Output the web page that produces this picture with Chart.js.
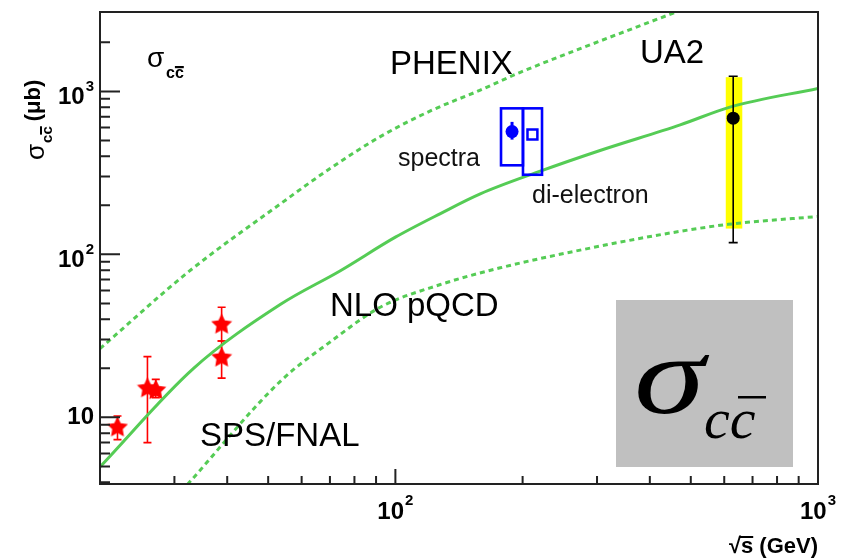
<!DOCTYPE html>
<html>
<head>
<meta charset="utf-8">
<script src="https://cdn.jsdelivr.net/npm/chart.js@4/dist/chart.umd.min.js"></script>
<style>
  html, body { margin: 0; padding: 0; background: #ffffff; }
  canvas { display: block; }
</style>
</head>
<body>
<canvas id="c" width="845" height="558"></canvas>
<script>
// ---- NLO pQCD charm cross section (central value and scale band) ----
const nloX   = [20, 33.3, 53.5, 74.1, 100, 127.8, 158.8, 220.2, 305, 472, 619, 1000];
const nloY   = [4.97, 20.0, 49.4, 79.4, 127.5, 178, 235, 324, 434, 623, 801, 1044];
const nloHiX = [20, 32.2, 53.5, 70.2, 92.1, 121, 158.8, 197.5, 305, 459];
const nloHiY = [26.4, 77.2, 204.6, 337.5, 528, 759, 1018, 1309, 2037, 3052];
const nloLoX = [32.2, 53.5, 70.2, 92.1, 127.8, 177.1, 305, 472, 613, 1000];
const nloLoY = [3.87, 16.7, 29.1, 47.4, 65.3, 82.7, 112.4, 138.5, 152.8, 170.8];

// ---- SPS / FNAL fixed-target measurements ----
const spsX     = [22.0, 25.9, 27.1, 38.8, 38.8];
const spsY     = [8.8, 15.3, 14.9, 37.6, 23.6];
const spsErrLo = [7.3, 7.0, 13.2, 29.4, 17.4];
const spsErrHi = [10.2, 23.6, 17.1, 47.4, 29.4];

// ---- PHENIX at sqrt(s) = 200 GeV: single-electron spectra and di-electrons ----
const phenixX      = [188.8, 211.0];
const phenixY      = [567, 544];
const phenixErrLo  = [506, 544];
const phenixErrHi  = [650, 544];
const phenixBoxXLo = [177.8, 200.4];
const phenixBoxXHi = [200.4, 222.3];
const phenixBoxYLo = [352, 308];
const phenixBoxYHi = [787, 787];

// ---- UA2 at sqrt(s) = 630 GeV ----
const ua2X      = [630];
const ua2Y      = [685];
const ua2ErrLo  = [118];
const ua2ErrHi  = [1239];
const ua2SysLo  = [144];
const ua2SysHi  = [1222];
const ua2SysXLo = [605];
const ua2SysXHi = [662];

// ---- axis ticks ----
const xMajorTicks = [100, 1000];
const xTickLabels = ['10^2', '10^3'];
const xMinorTicks = [30, 40, 50, 60, 70, 80, 90, 200, 300, 400, 500, 600, 700, 800, 900];
const yMajorTicks = [10, 100, 1000];
const yTickLabels = ['10', '10^2', '10^3'];
const yMinorTicks = [4, 5, 6, 7, 8, 9, 20, 30, 40, 50, 60, 70, 80, 90,
                     200, 300, 400, 500, 600, 700, 800, 900, 2000];

const GREEN = '#55cc55';
const SANS = '"Liberation Sans", Arial, Helvetica, sans-serif';
const SERIF = '"Liberation Serif", "Times New Roman", serif';

const pts = (xs, ys) => xs.map((x, i) => ({ x: x, y: ys[i] }));

// filled five-pointed star used for the fixed-target points
function starImage(size, color) {
  const c = document.createElement('canvas');
  c.width = size; c.height = size;
  const g = c.getContext('2d');
  const cx = size / 2, cy = size / 2 + size * 0.05, R = size / 2, r = R * 0.5;
  g.fillStyle = color;
  g.beginPath();
  for (let i = 0; i < 10; i++) {
    const a = -Math.PI / 2 + i * Math.PI / 5;
    const rr = (i % 2) ? r : R;
    g.lineTo(cx + rr * Math.cos(a), cy + rr * Math.sin(a));
  }
  g.closePath();
  g.fill();
  return c;
}

function errorBar(ctx, x, y1, y2, cap, color, width) {
  ctx.save();
  ctx.strokeStyle = color;
  ctx.lineWidth = width;
  ctx.beginPath();
  ctx.moveTo(x, y1); ctx.lineTo(x, y2);
  ctx.moveTo(x - cap / 2, y1); ctx.lineTo(x + cap / 2, y1);
  ctx.moveTo(x - cap / 2, y2); ctx.lineTo(x + cap / 2, y2);
  ctx.stroke();
  ctx.restore();
}

// "10^3" -> base and superscript
function drawPower(ctx, label, x, yCenter, align) {
  const parts = label.split('^');
  const baseFont = 'bold 24px ' + SANS;
  const supFont = 'bold 15px ' + SANS;
  ctx.font = baseFont;
  const wb = ctx.measureText(parts[0]).width;
  ctx.font = supFont;
  const ws = parts[1] ? ctx.measureText(parts[1]).width + 1 : 0;
  const total = wb + ws;
  let x0 = align === 'right' ? x - total : x - total / 2;
  ctx.textAlign = 'left';
  ctx.textBaseline = 'middle';
  ctx.fillStyle = '#000';
  ctx.font = baseFont;
  ctx.fillText(parts[0], x0, yCenter);
  if (parts[1]) {
    ctx.font = supFont;
    ctx.fillText(parts[1], x0 + wb + 1, yCenter - 11);
  }
}

function text(ctx, s, x, y, font, color) {
  ctx.font = font;
  ctx.fillStyle = color || '#000';
  ctx.textAlign = 'left';
  ctx.textBaseline = 'alphabetic';
  ctx.fillText(s, x, y);
}

const decorations = {
  id: 'decorations',
  beforeDatasetsDraw(chart) {
    const ctx = chart.ctx, xs = chart.scales.x, ys = chart.scales.y;
    // UA2 systematic band
    ctx.save();
    ctx.fillStyle = '#ffff00';
    for (let i = 0; i < ua2X.length; i++) {
      const xl = xs.getPixelForValue(ua2SysXLo[i]), xr = xs.getPixelForValue(ua2SysXHi[i]);
      const yt = ys.getPixelForValue(ua2SysHi[i]), yb = ys.getPixelForValue(ua2SysLo[i]);
      ctx.fillRect(xl, yt, xr - xl, yb - yt);
    }
    ctx.restore();
    // fixed-target error bars
    for (let i = 0; i < spsX.length; i++) {
      errorBar(ctx, xs.getPixelForValue(spsX[i]), ys.getPixelForValue(spsErrHi[i]),
               ys.getPixelForValue(spsErrLo[i]), 8, '#ff0000', 1.6);
    }
  },
  afterDatasetsDraw(chart) {
    const ctx = chart.ctx, xs = chart.scales.x, ys = chart.scales.y;
    const a = chart.chartArea;

    // UA2 error bar
    for (let i = 0; i < ua2X.length; i++) {
      errorBar(ctx, xs.getPixelForValue(ua2X[i]), ys.getPixelForValue(ua2ErrHi[i]),
               ys.getPixelForValue(ua2ErrLo[i]), 9, '#000000', 1.6);
    }
    // PHENIX systematic boxes and spectra stat bar
    ctx.save();
    ctx.strokeStyle = '#0000ff';
    for (let i = 0; i < phenixX.length; i++) {
      const xl = xs.getPixelForValue(phenixBoxXLo[i]), xr = xs.getPixelForValue(phenixBoxXHi[i]);
      const yt = ys.getPixelForValue(phenixBoxYHi[i]), yb = ys.getPixelForValue(phenixBoxYLo[i]);
      ctx.lineWidth = 2.6;
      ctx.strokeRect(xl, yt, xr - xl, yb - yt);
      const px = xs.getPixelForValue(phenixX[i]);
      ctx.beginPath();
      ctx.lineWidth = 3;
      ctx.moveTo(px, ys.getPixelForValue(phenixErrHi[i]));
      ctx.lineTo(px, ys.getPixelForValue(phenixErrLo[i]));
      ctx.stroke();
    }
    ctx.restore();

    // labels
    const big = '33px ' + SANS, mid = '25px ' + SANS;
    text(ctx, 'PHENIX', 390, 74, big);
    text(ctx, 'UA2', 640, 63, big);
    text(ctx, 'spectra', 398, 166, mid, '#111');
    text(ctx, 'di-electron', 532, 203, mid, '#111');
    text(ctx, 'NLO pQCD', 330, 316, big);
    text(ctx, 'SPS/FNAL', 200, 446, big);

    // sigma_{c cbar} tag, top left
    text(ctx, 'σ', 147, 67, '28px ' + SANS);
    ctx.font = 'bold 16px ' + SANS;
    const wc = ctx.measureText('c').width;
    text(ctx, 'cc', 166, 78, 'bold 16px ' + SANS);
    ctx.fillRect(166 + wc, 66, wc, 2.2);

    // grey box with large italic sigma
    ctx.save();
    ctx.fillStyle = '#c0c0c0';
    ctx.fillRect(616, 300, 177, 167);
    ctx.restore();
    ctx.save();
    ctx.translate(634, 413);
    ctx.scale(1.28, 1);
    text(ctx, 'σ', 0, 0, 'italic 112px ' + SERIF);
    ctx.restore();
    text(ctx, 'cc', 704, 438, 'italic 58px ' + SERIF);
    ctx.fillRect(738, 396, 28, 2.5);

    // frame
    ctx.save();
    ctx.strokeStyle = '#222';
    ctx.lineWidth = 2;
    ctx.strokeRect(a.left, a.top, a.right - a.left, a.bottom - a.top);
    // ticks drawn inwards
    ctx.beginPath();
    xMajorTicks.forEach(v => { const p = xs.getPixelForValue(v); ctx.moveTo(p, a.bottom); ctx.lineTo(p, a.bottom - 15); });
    xMinorTicks.forEach(v => { const p = xs.getPixelForValue(v); ctx.moveTo(p, a.bottom); ctx.lineTo(p, a.bottom - 8); });
    yMajorTicks.forEach(v => { const p = ys.getPixelForValue(v); ctx.moveTo(a.left, p); ctx.lineTo(a.left + 20, p); });
    yMinorTicks.forEach(v => { const p = ys.getPixelForValue(v); ctx.moveTo(a.left, p); ctx.lineTo(a.left + 10, p); });
    ctx.stroke();
    ctx.restore();

    // tick labels
    xMajorTicks.forEach((v, i) => drawPower(ctx, xTickLabels[i], xs.getPixelForValue(v), 512, 'center'));
    yMajorTicks.forEach((v, i) => {
      const off = yTickLabels[i].indexOf('^') >= 0 ? 6 : 0;
      drawPower(ctx, yTickLabels[i], 94, ys.getPixelForValue(v) + off, 'right');
    });

    // x title: sqrt(s) (GeV)
    ctx.font = 'bold 22px ' + SANS;
    const xt = '√s (GeV)';
    const wAll = ctx.measureText(xt).width;
    const x0 = a.right - wAll;
    text(ctx, xt, x0, 553, 'bold 22px ' + SANS);
    const wr = ctx.measureText('√').width, ws = ctx.measureText('s').width;
    ctx.fillRect(x0 + wr - 2, 536, ws + 2, 2);

    // y title: sigma_{c cbar} (mu b), rotated
    ctx.save();
    ctx.translate(44, 160);
    ctx.rotate(-Math.PI / 2);
    text(ctx, 'σ', 0, 0, '26px ' + SANS);
    ctx.font = '26px ' + SANS;
    const wsig = ctx.measureText('σ').width;
    ctx.font = 'bold 15px ' + SANS;
    const wc2 = ctx.measureText('c').width;
    text(ctx, 'cc', wsig + 1, 8, 'bold 15px ' + SANS);
    ctx.fillRect(wsig + 1 + wc2, -4, wc2, 2);
    text(ctx, '(μb)', wsig + 2 * wc2 + 6, -4, 'bold 22px ' + SANS);
    ctx.restore();
  }
};

const curve = (xs, ys, dash) => ({
  data: pts(xs, ys), showLine: true, borderColor: GREEN, borderWidth: 3,
  borderDash: dash, pointRadius: 0, cubicInterpolationMode: 'monotone', clip: 0
});

const chart = new Chart(document.getElementById('c'), {
  type: 'scatter',
  data: {
    datasets: [
      curve(nloX, nloY, []),
      curve(nloHiX, nloHiY, [5, 4]),
      curve(nloLoX, nloLoY, [5, 4]),
      { data: pts(spsX, spsY), pointStyle: starImage(22, '#ff0000'), pointRadius: 11 },
      { data: pts([phenixX[0]], [phenixY[0]]), pointStyle: 'circle', pointRadius: 6.5,
        backgroundColor: '#0000ff', borderColor: '#0000ff', borderWidth: 0 },
      { data: pts([phenixX[1]], [phenixY[1]]), pointStyle: 'rect', pointRadius: 7,
        backgroundColor: 'rgba(0,0,0,0)', borderColor: '#0000ff', borderWidth: 2.5 },
      { data: pts(ua2X, ua2Y), pointStyle: 'circle', pointRadius: 6.5,
        backgroundColor: '#000000', borderColor: '#000000', borderWidth: 0 }
    ]
  },
  options: {
    responsive: false,
    animation: false,
    events: [],
    layout: { padding: { left: 0, right: 27, top: 7, bottom: 0 } },
    scales: {
      x: {
        type: 'logarithmic', min: 20, max: 1000, bounds: 'data',
        grid: { display: false }, border: { display: false }, ticks: { display: false },
        afterFit(s) { s.height = 74; }
      },
      y: {
        type: 'logarithmic', min: 3.9, max: 3070, bounds: 'data',
        grid: { display: false }, border: { display: false }, ticks: { display: false },
        afterFit(s) { s.width = 100; }
      }
    },
    plugins: { legend: { display: false }, tooltip: { enabled: false } }
  },
  plugins: [decorations]
});
</script>
</body>
</html>
